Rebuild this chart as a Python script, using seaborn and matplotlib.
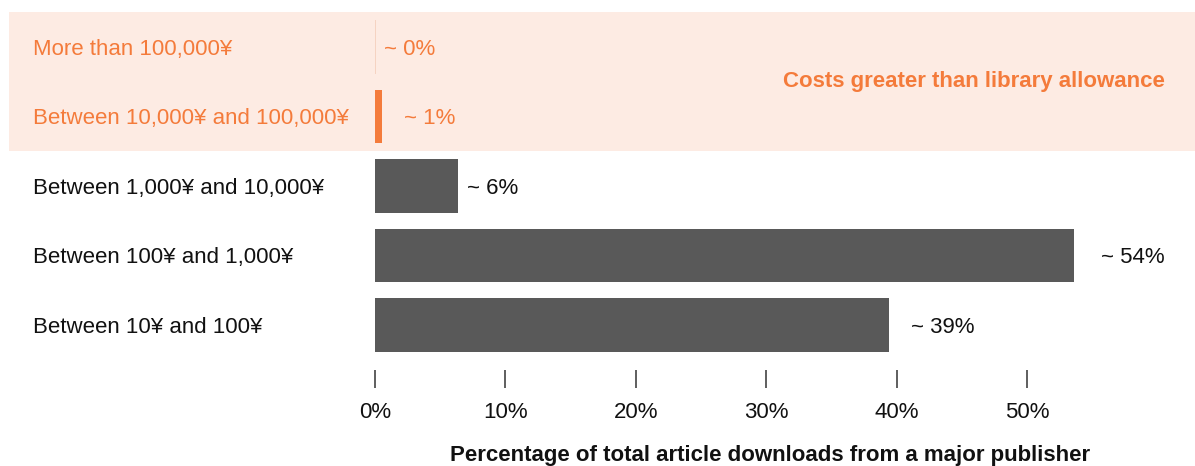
import matplotlib
matplotlib.use("Agg")
import matplotlib.pyplot as plt
import matplotlib.transforms as mtransforms
import seaborn as sns
import pandas as pd

categories = [
    "More than 100,000¥",
    "Between 10,000¥ and 100,000¥",
    "Between 1,000¥ and 10,000¥",
    "Between 100¥ and 1,000¥",
    "Between 10¥ and 100¥",
]
values = [0.08, 0.5, 6.35, 53.6, 39.4]
value_labels = ["~ 0%", "~ 1%", "~ 6%", "~ 54%", "~ 39%"]
label_pad_px = [8, 22, 9, 27, 22]
over_budget = [True, True, False, False, False]
xticks = [0, 10, 20, 30, 40, 50]
xtick_labels = ["0%", "10%", "20%", "30%", "40%", "50%"]
x_title = "Percentage of total article downloads from a major publisher"
band_title = "Costs greater than library allowance"

ORANGE = "#f47b3b"
GRAY = "#595959"
BAND = "#fdebe3"
TEXT = "#111111"
FS = 16.0

sns.set_theme(style="white")
plt.rcParams["font.family"] = ["Liberation Sans", "DejaVu Sans"]

W, H = 1195, 466
fig = plt.figure(figsize=(W / 100, H / 100), dpi=100)
ax = fig.add_axes([375 / W, 1 - 370 / H, (W - 375) / W, (370 - 12) / H])
ax.set_zorder(2)

bar_colors = ["#f5d3c2", ORANGE, GRAY, GRAY, GRAY]
df = pd.DataFrame({"cat": categories, "val": values})
sns.barplot(data=df, x="val", y="cat", hue="cat", palette=bar_colors,
            legend=False, width=0.77, saturation=1, ax=ax, zorder=3,
            linewidth=0, edgecolor="none")

ax.set_xlim(0, (W - 375) / 13.04)
ax.set_ylim(4.65, -0.5)

# shaded band for the over-budget rows
trans = mtransforms.blended_transform_factory(fig.transFigure, ax.transData)
n_over = sum(over_budget)
band = plt.Rectangle((9 / W, -0.5), 1 - 9 / W, n_over, transform=trans,
                     facecolor=BAND, edgecolor="none", zorder=0)
fig.patches.append(band)
ax.patch.set_alpha(0)
fig.patch.set_facecolor("white")

# y labels
ax.set_yticks(range(len(categories)))
ax.set_yticklabels(categories, ha="left")
ax.tick_params(axis="y", length=0, pad=(375 - 33) * 0.72, labelsize=FS)
for lab, ob in zip(ax.get_yticklabels(), over_budget):
    lab.set_color(ORANGE if ob else TEXT)

# x ticks
ax.set_xticks(xticks)
ax.set_xticklabels(xtick_labels)
ax.tick_params(axis="x", bottom=True, length=13, width=1.1, color="#333333",
               direction="out", pad=10, labelsize=FS, labelcolor=TEXT)

for s in ax.spines.values():
    s.set_visible(False)
ax.grid(False)

# value labels
for i, (v, lab, pad, ob) in enumerate(zip(values, value_labels, label_pad_px, over_budget)):
    ax.annotate(lab, xy=(v, i), xytext=(pad * 0.72, 0), textcoords="offset points",
                ha="left", va="center_baseline", fontsize=FS,
                color=ORANGE if ob else TEXT)

# band title
ax.text((1165 - 375) / 13.04, (n_over - 1) / 2, band_title, ha="right", va="center",
        fontsize=16, fontweight="bold", color=ORANGE)

ax.set_xlabel(x_title, fontsize=16, fontweight="bold", color=TEXT, va="center")
ax.xaxis.set_label_coords((770 - 375) / (W - 375), -(455 - 370) / (370 - 12))
ax.set_ylabel("")

fig.savefig("out.png", dpi=100)
